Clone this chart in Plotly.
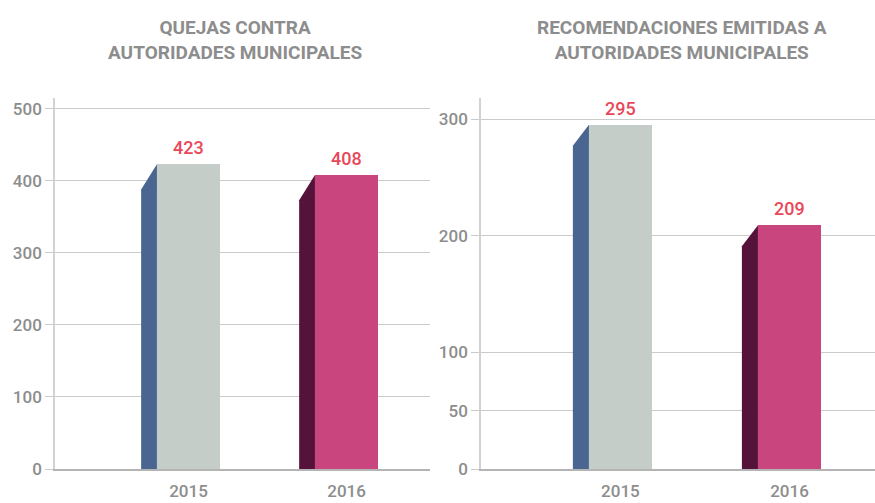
import plotly.graph_objects as go

# ---- data ----
years = ["2015", "2016"]
quejas = [423, 408]
recomendaciones = [295, 209]
quejas_ticks = [0, 100, 200, 300, 400, 500]
recom_ticks = [0, 50, 100, 200, 300]
titles = ["QUEJAS CONTRA<br>AUTORIDADES MUNICIPALES",
          "RECOMENDACIONES EMITIDAS A<br>AUTORIDADES MUNICIPALES"]

# ---- style ----
FONT = "Roboto, 'Liberation Sans Narrow', sans-serif"
GRAY = "#8d8d8d"
RED = "#e8485a"
front_colors = ["#c5cdc8", "#c9457d"]
side_colors = ["#4a6690", "#55123a"]

fig = go.Figure()

panels = [
    dict(vals=quejas, ticks=quejas_ticks, xa="x", ya="y", yrange=[0, 515],
         xrange=[-0.845, 1.528], w=0.40, s=0.10, slant=35),
    dict(vals=recomendaciones, ticks=recom_ticks, xa="x2", ya="y2", yrange=[0, 318],
         xrange=[-0.825, 1.506], w=0.373, s=0.095, slant=18),
]

for p in panels:
    xs = list(range(len(years)))
    for i, v in enumerate(p["vals"]):
        left = xs[i] - p["w"] / 2
        fig.add_trace(go.Scatter(
            x=[left - p["s"], left - p["s"], left, left, left - p["s"]],
            y=[0, v - p["slant"], v, 0, 0],
            fill="toself", fillcolor=side_colors[i], mode="lines",
            line=dict(width=0), hoverinfo="skip", showlegend=False,
            xaxis=p["xa"], yaxis=p["ya"]))
    fig.add_trace(go.Bar(
        x=xs, y=p["vals"], width=p["w"], marker=dict(color=front_colors, line=dict(width=0)),
        showlegend=False, hoverinfo="skip", xaxis=p["xa"], yaxis=p["ya"]))
    for i, v in enumerate(p["vals"]):
        fig.add_annotation(x=xs[i], y=v, xref=p["xa"], yref=p["ya"], text=str(v),
                           showarrow=False, yanchor="bottom", yshift=4,
                           font=dict(family=FONT, size=18, color=RED, weight=500))

axis_common_x = dict(tickmode="array", tickvals=[0, 1], ticktext=years,
                     showgrid=False, zeroline=False, showline=True, linecolor="#b4b4b4",
                     linewidth=1.5, ticks="", ticklabelstandoff=6,
                     tickfont=dict(family=FONT, size=17, color=GRAY, weight=500), fixedrange=True)
axis_common_y = dict(tickmode="array", showgrid=True, gridcolor="#cbcbcb", gridwidth=1,
                     zeroline=False, showline=True, linecolor="#d2d2d2", linewidth=1.5,
                     ticks="outside", ticklen=8, tickcolor="#cbcbcb",
                     tickfont=dict(family=FONT, size=17, color=GRAY, weight=500), fixedrange=True)

fig.update_layout(
    width=875, height=503,
    margin=dict(l=0, r=0, t=98, b=34),
    paper_bgcolor="white", plot_bgcolor="white",
    bargap=0,
    xaxis=dict(domain=[55 / 875, 430 / 875], range=panels[0]["xrange"], anchor="y", **axis_common_x),
    yaxis=dict(domain=[0, 1], range=panels[0]["yrange"], tickvals=quejas_ticks,
               ticktext=[str(t) for t in quejas_ticks], anchor="x", **axis_common_y),
    xaxis2=dict(domain=[481 / 875, 1.0], range=panels[1]["xrange"], anchor="y2", **axis_common_x),
    yaxis2=dict(domain=[0, 1], range=panels[1]["yrange"], tickvals=recom_ticks,
                ticktext=[str(t) for t in recom_ticks], anchor="x2", **axis_common_y),
)

for xc, t in zip([235 / 875, 682 / 875], titles):
    fig.add_annotation(x=xc, y=1.0, xref="paper", yref="paper", xanchor="center",
                       yanchor="bottom", yshift=32, text=t, showarrow=False, align="center",
                       font=dict(family=FONT, size=19, color=GRAY, weight="bold"))

fig.write_html("out.html", config={"displayModeBar": False},
               post_script="document.body.style.margin='0';")
